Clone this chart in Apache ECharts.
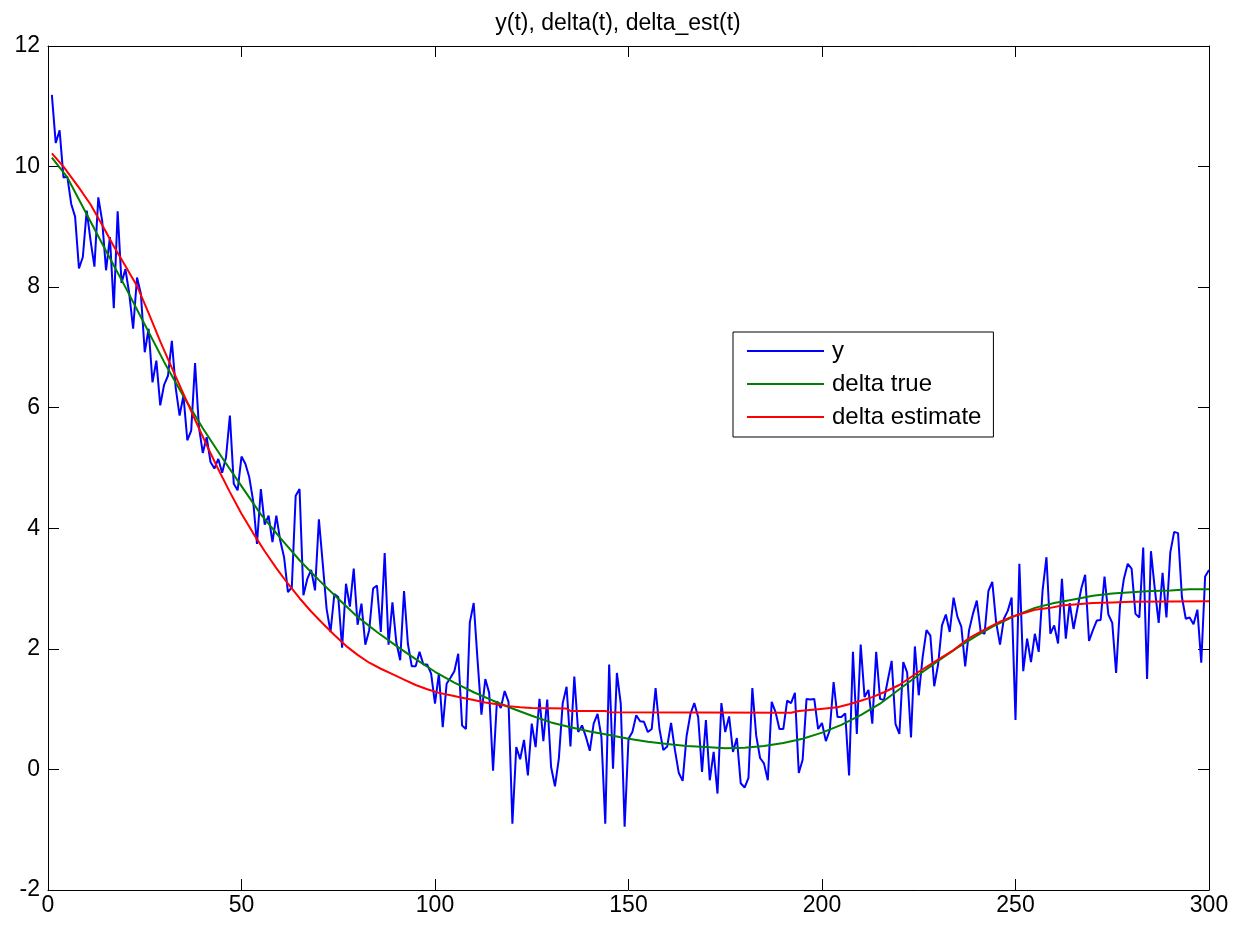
<!DOCTYPE html>
<html>
<head>
<meta charset="utf-8">
<title>y(t), delta(t), delta_est(t)</title>
<script src="https://cdn.jsdelivr.net/npm/echarts@6/dist/echarts.min.js"></script>
<style>
  html, body { margin: 0; padding: 0; background: #ffffff; }
  #chart { width: 1236px; height: 928px; }
</style>
</head>
<body>
<div id="chart"></div>
<script>
// Noisy observations y(t), t = 1..300
const yValues = [
  11.19, 10.39, 10.60, 9.82, 9.83, 9.38, 9.17, 8.31, 8.50, 9.27,
  8.77, 8.34, 9.49, 9.10, 8.28, 8.83, 7.65, 9.26, 8.07, 8.30,
  7.89, 7.31, 8.16, 7.89, 6.92, 7.31, 6.42, 6.78, 6.04, 6.38,
  6.53, 7.11, 6.33, 5.87, 6.20, 5.46, 5.62, 6.74, 5.68, 5.25,
  5.51, 5.10, 4.99, 5.15, 4.92, 5.18, 5.87, 4.74, 4.63, 5.19,
  5.07, 4.85, 4.46, 3.74, 4.65, 4.06, 4.21, 3.77, 4.21, 3.80,
  3.52, 2.94, 3.02, 4.54, 4.65, 2.89, 3.16, 3.31, 2.97, 4.15,
  3.41, 2.66, 2.28, 2.91, 2.86, 2.02, 3.08, 2.70, 3.33, 2.40,
  2.75, 2.07, 2.31, 3.00, 3.05, 2.28, 3.59, 2.07, 2.77, 2.11,
  1.81, 2.96, 2.08, 1.71, 1.71, 1.95, 1.74, 1.74, 1.59, 1.09,
  1.59, 0.70, 1.42, 1.52, 1.63, 1.92, 0.73, 0.67, 2.44, 2.76,
  1.81, 0.91, 1.50, 1.27, -0.02, 1.13, 1.02, 1.30, 1.12, -0.90,
  0.37, 0.17, 0.49, -0.10, 0.76, 0.37, 1.17, 0.47, 1.16, 0.04,
  -0.28, 0.18, 1.10, 1.37, 0.38, 1.54, 0.62, 0.73, 0.54, 0.31,
  0.76, 0.92, 0.54, -0.90, 1.74, 0.01, 1.60, 1.09, -0.95, 0.51,
  0.62, 0.90, 0.80, 0.79, 0.62, 0.67, 1.35, 0.67, 0.32, 0.38,
  0.77, 0.32, -0.06, -0.19, 0.55, 0.92, 1.10, 0.87, -0.04, 0.82,
  -0.18, 0.29, -0.40, 1.10, 0.62, 0.88, 0.29, 0.52, -0.23, -0.30,
  -0.14, 1.35, 0.56, 0.19, 0.10, -0.18, 1.12, 0.95, 0.67, 0.67,
  1.14, 1.10, 1.27, -0.06, 0.16, 1.17, 1.16, 1.17, 0.67, 0.77,
  0.47, 0.65, 1.45, 0.87, 0.87, 0.93, -0.10, 1.95, 0.59, 2.07,
  1.20, 1.32, 0.76, 1.95, 1.17, 1.15, 1.48, 1.80, 0.75, 0.59,
  1.78, 1.61, 0.53, 2.04, 1.23, 1.86, 2.31, 2.22, 1.38, 1.74,
  2.39, 2.57, 2.28, 2.85, 2.53, 2.37, 1.71, 2.31, 2.58, 2.80,
  2.29, 2.25, 2.96, 3.11, 2.44, 2.07, 2.50, 2.63, 2.85, 0.82,
  3.41, 1.63, 2.17, 1.78, 2.25, 1.95, 2.97, 3.52, 2.25, 2.39,
  2.09, 3.16, 2.17, 2.76, 2.33, 2.67, 3.00, 3.23, 2.13, 2.31,
  2.47, 2.48, 3.20, 2.57, 2.43, 1.60, 2.72, 3.16, 3.41, 3.33,
  2.58, 2.52, 3.68, 1.50, 3.62, 2.99, 2.43, 3.26, 2.52, 3.60,
  3.94, 3.92, 2.86, 2.50, 2.52, 2.41, 2.65, 1.77, 3.20, 3.31
];

// True signal delta(t), sampled at these times
const deltaTrueT = [1, 5, 10, 15, 20, 25, 30, 35, 40, 45, 50, 55, 60, 65, 70, 75, 80, 85, 90, 95,
  100, 105, 110, 115, 120, 125, 130, 135, 140, 145, 150, 155, 160, 165, 170, 175, 180, 185, 190, 195,
  200, 205, 210, 215, 220, 225, 230, 235, 240, 245, 250, 255, 260, 265, 270, 275, 280, 285, 290, 295, 300];
const deltaTrueV = [10.15, 9.82, 9.21, 8.60, 8.00, 7.38, 6.76, 6.19, 5.66, 5.17, 4.70, 4.23, 3.84, 3.47, 3.14, 2.83, 2.53, 2.28, 2.05, 1.83,
  1.62, 1.44, 1.28, 1.14, 1.01, 0.89, 0.78, 0.70, 0.63, 0.57, 0.51, 0.46, 0.42, 0.39, 0.37, 0.35, 0.36, 0.39, 0.44, 0.51,
  0.61, 0.74, 0.90, 1.09, 1.33, 1.57, 1.80, 2.02, 2.22, 2.40, 2.55, 2.68, 2.76, 2.82, 2.88, 2.92, 2.94, 2.96, 2.97, 2.99, 2.99];

// Estimated delta_est(t), sampled at these times
const deltaEstT = [1, 4, 8, 11, 14, 17, 20, 23, 26, 29, 32, 35, 38, 41, 44, 47, 50, 53, 56, 59,
  62, 65, 68, 71, 74, 77, 80, 83, 86, 89, 92, 95, 98, 101, 104, 107, 110, 113, 116, 119,
  122, 125, 134, 135, 144, 145, 192, 194, 199, 204, 207, 210, 213, 216, 220, 225, 230, 234, 238, 242,
  246, 249, 252, 255, 259, 262, 266, 270, 275, 280, 300];
const deltaEstV = [10.22, 10.00, 9.65, 9.37, 9.03, 8.68, 8.35, 8.02, 7.57, 7.10, 6.66, 6.23, 5.80, 5.38, 4.98, 4.60, 4.24, 3.92, 3.62, 3.34,
  3.08, 2.84, 2.62, 2.42, 2.23, 2.05, 1.90, 1.77, 1.67, 1.58, 1.49, 1.40, 1.33, 1.27, 1.23, 1.19, 1.15, 1.11, 1.08, 1.05,
  1.03, 1.02, 1.01, 0.97, 0.97, 0.95, 0.94, 0.97, 1.00, 1.03, 1.08, 1.14, 1.20, 1.28, 1.40, 1.62, 1.82, 1.98, 2.18, 2.32,
  2.45, 2.53, 2.59, 2.65, 2.68, 2.72, 2.74, 2.76, 2.77, 2.78, 2.79];

// Axis ranges and tick spacing
const xRange = [0, 300], xStep = 50;
const yRange = [-2, 12], yStep = 2;

const FONT = "'Liberation Sans', Arial, Helvetica, sans-serif";

const pairs = (xs, vs) => xs.map((x, i) => [x, vs[i]]);

const chart = echarts.init(document.getElementById('chart'), null, { renderer: 'canvas' });

const axisCommon = {
  type: 'value',
  splitLine: { show: false },
  axisLine: { show: true, onZero: false, lineStyle: { color: '#000', width: 1 } },
  axisTick: { show: true, inside: true, length: 11, lineStyle: { color: '#000', width: 1 } }
};

chart.setOption({
  backgroundColor: '#ffffff',
  animation: false,
  title: {
    text: 'y(t), delta(t), delta_est(t)',
    left: 'center',
    top: 7,
    textStyle: { fontFamily: FONT, fontSize: 23, fontWeight: 'normal', color: '#000' }
  },
  legend: {
    orient: 'vertical',
    left: 733,
    top: 332,
    padding: [7, 12, 8, 14],
    itemGap: 9,
    itemWidth: 77,
    itemHeight: 2,
    icon: 'rect',
    backgroundColor: '#fff',
    borderColor: '#000',
    borderWidth: 1,
    borderRadius: 0,
    textStyle: { fontFamily: FONT, fontSize: 24, lineHeight: 24, color: '#000', padding: [0, 0, 0, 3] },
    data: ['y', 'delta true', 'delta estimate']
  },
  grid: { left: 48, right: 27, top: 46, bottom: 38, containLabel: false },
  xAxis: [
    Object.assign({}, axisCommon, {
      position: 'bottom', min: xRange[0], max: xRange[1], interval: xStep,
      axisLabel: { show: true, margin: 4, fontFamily: FONT, fontSize: 23, color: '#000' }
    }),
    Object.assign({}, axisCommon, {
      position: 'top', min: xRange[0], max: xRange[1], interval: xStep,
      axisLabel: { show: false }
    })
  ],
  yAxis: [
    Object.assign({}, axisCommon, {
      position: 'left', min: yRange[0], max: yRange[1], interval: yStep,
      axisLabel: { show: true, margin: 8, fontFamily: FONT, fontSize: 23, color: '#000' }
    }),
    Object.assign({}, axisCommon, {
      position: 'right', min: yRange[0], max: yRange[1], interval: yStep,
      axisLabel: { show: false }
    })
  ],
  series: [
    {
      name: 'y', type: 'line', xAxisIndex: 0, yAxisIndex: 0,
      data: yValues.map((v, i) => [i + 1, v]),
      symbol: 'none', lineStyle: { color: '#0000ff', width: 2 }, itemStyle: { color: '#0000ff' }
    },
    {
      name: 'delta true', type: 'line', xAxisIndex: 0, yAxisIndex: 0,
      data: pairs(deltaTrueT, deltaTrueV),
      symbol: 'none', smooth: false,
      lineStyle: { color: '#008000', width: 2 }, itemStyle: { color: '#008000' }
    },
    {
      name: 'delta estimate', type: 'line', xAxisIndex: 0, yAxisIndex: 0,
      data: pairs(deltaEstT, deltaEstV),
      symbol: 'none', smooth: false,
      lineStyle: { color: '#ff0000', width: 2 }, itemStyle: { color: '#ff0000' }
    }
  ]
});
</script>
</body>
</html>
